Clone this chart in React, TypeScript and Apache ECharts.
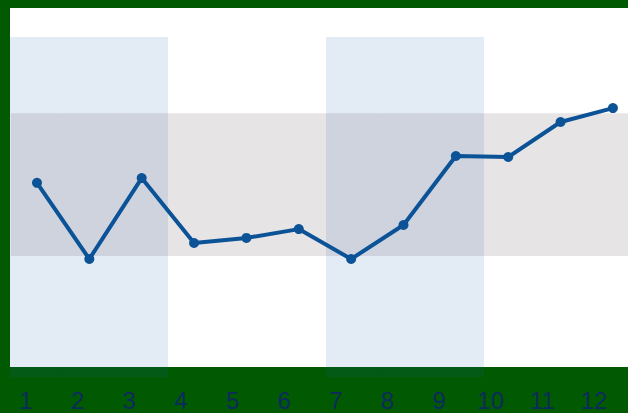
import React, { useEffect, useRef } from "react";
import * as echarts from "echarts";

const categories = ["1", "2", "3", "4", "5", "6", "7", "8", "9", "10", "11", "12"];
const values = [57.1, 34.7, 58.5, 39.4, 40.9, 43.5, 34.7, 44.7, 65.0, 64.7, 75.0, 79.1];
const shadedRanges: [string, string][] = [["1", "3"], ["7", "9"]];
const bandRange: [number, number] = [35.6, 77.6];
const yMin = 0;
const yMax = 100;

export default function App() {
  const ref = useRef<HTMLDivElement>(null);
  useEffect(() => {
    if (!ref.current) return;
    const chart = echarts.init(ref.current, null, { renderer: "svg" });
    const shadedData = categories.map((c, i) => {
      const inside = shadedRanges.some(
        ([a, b]) => i >= categories.indexOf(a) && i <= categories.indexOf(b)
      );
      return inside ? yMax : "-";
    });
    const hiddenCat = {
      type: "category",
      data: categories,
      boundaryGap: true,
      axisLine: { show: false },
      axisTick: { show: false },
      axisLabel: { show: false },
      splitLine: { show: false },
    };
    chart.setOption({
      animation: false,
      backgroundColor: "#015a02",
      graphic: [
        {
          type: "rect",
          z: -10,
          shape: { x: 10, y: 8, width: 620, height: 359 },
          style: { fill: "#ffffff" },
          silent: true,
        },
      ],
      grid: [
        { left: 10.8, top: 37, width: 628.3, height: 340, outerBoundsMode: "none", containLabel: false },
        { left: 0.2, top: 300, width: 619.6, height: 80, outerBoundsMode: "none", containLabel: false },
        { left: 10, top: 37, width: 632, height: 340, outerBoundsMode: "none", containLabel: false },
      ],
      xAxis: [
        { ...hiddenCat, gridIndex: 0 },
        {
          type: "category",
          gridIndex: 1,
          data: categories,
          boundaryGap: true,
          axisLine: { show: false },
          axisTick: { show: false },
          splitLine: { show: false },
          axisLabel: {
            show: true,
            margin: 8,
            color: "#0d2b5c",
            fontSize: 24,
            fontFamily: "Liberation Sans, Arial, sans-serif",
          },
        },
        { ...hiddenCat, gridIndex: 2 },
      ],
      yAxis: [
        { type: "value", gridIndex: 0, min: yMin, max: yMax, show: false, splitLine: { show: false } },
        { type: "value", gridIndex: 1, min: 0, max: 1, show: false },
        { type: "value", gridIndex: 2, min: yMin, max: yMax, show: false, splitLine: { show: false } },
      ],
      series: [
        {
          type: "bar",
          xAxisIndex: 2,
          yAxisIndex: 2,
          data: shadedData,
          barCategoryGap: "0%",
          barWidth: "100%",
          itemStyle: { color: "rgba(22,88,172,0.12)" },
          silent: true,
          z: 1,
        },
        {
          type: "line",
          xAxisIndex: 0,
          yAxisIndex: 0,
          data: values,
          symbol: "circle",
          symbolSize: 10,
          showSymbol: true,
          lineStyle: { color: "#0b5396", width: 4 },
          itemStyle: { color: "#0b5396" },
          z: 5,
          markArea: {
            silent: true,
            data: [
              [
                { yAxis: bandRange[0], itemStyle: { color: "rgba(95,75,82,0.15)" } },
                { yAxis: bandRange[1] },
              ],
            ],
          },
        },
        {
          type: "line",
          xAxisIndex: 1,
          yAxisIndex: 1,
          data: [],
        },
      ],
    });
    return () => chart.dispose();
  }, []);
  return (
    <div
      ref={ref}
      style={{ position: "fixed", left: 0, top: 0, width: 628, height: 413 }}
    />
  );
}
